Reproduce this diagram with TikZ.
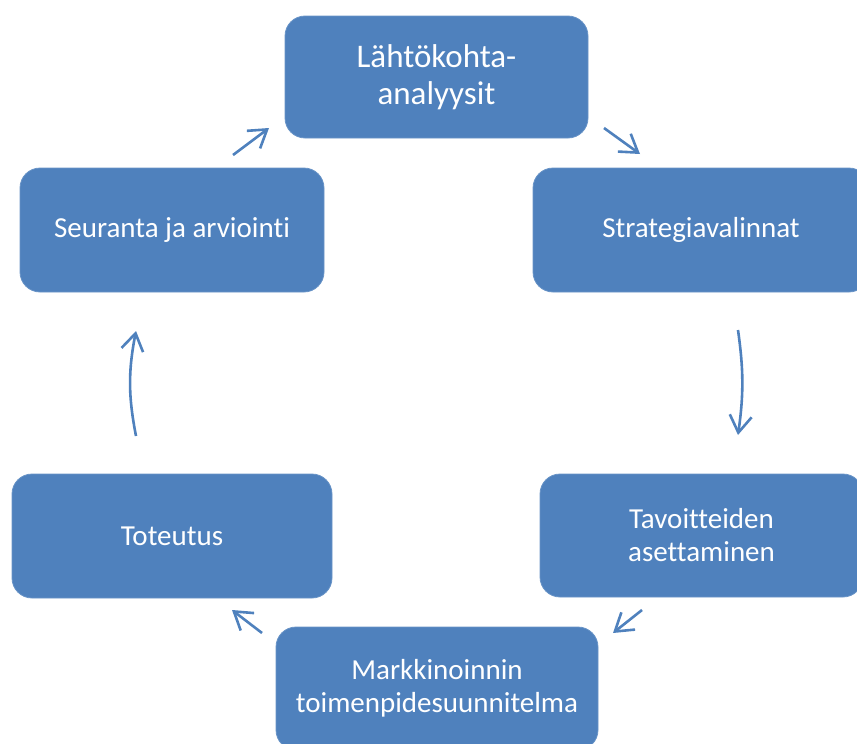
\documentclass[tikz,border=0pt]{standalone}
\usepackage{fontspec}
\setmainfont{Carlito}[Ligatures=NoCommon]
\usetikzlibrary{arrows.meta}
\definecolor{boxblue}{HTML}{4F81BD}

\begin{document}
\begin{tikzpicture}[x=1pt,y=-1pt,
	phase/.style={rectangle, rounded corners=20pt, fill=boxblue, draw=boxblue!85!white, line width=0.8pt,
		text=white, align=center, inner sep=0pt, font=\fontsize{29}{33}\selectfont},
	cyc/.style={draw=boxblue, line width=2.6pt, -{Straight Barb[length=17pt,width=22pt]}}]
	\useasboundingbox (0,0) rectangle (857,744);
	\node[phase, minimum width=303pt, minimum height=122pt, font=\fontsize{33}{37}\selectfont] (lahto) at (436.5,77) {Lähtökohta-\\analyysit};
	\node[phase, minimum width=336pt, minimum height=124pt] (strat) at (701,230) {Strategiavalinnat};
	\node[phase, minimum width=323pt, minimum height=123pt] (tavoit) at (701.5,535.5) {Tavoitteiden\\asettaminen};
	\node[phase, minimum width=322pt, minimum height=123pt] (markk) at (437,688.5) {Markkinoinnin\\toimenpidesuunnitelma};
	\node[phase, minimum width=320pt, minimum height=124pt] (toteu) at (172,536) {Toteutus};
	\node[phase, minimum width=304pt, minimum height=124pt] (seur) at (172,230) {Seuranta ja arviointi};
	% arrow ends
	\coordinate (a1) at (604,128); \coordinate (b1) at (640,154);
	\coordinate (a2) at (738,330); \coordinate (b2) at (738,435);
	\coordinate (a3) at (642,610); \coordinate (b3) at (613,633);
	\coordinate (a4) at (262,633); \coordinate (b4) at (232,610);
	\coordinate (a5) at (136,436); \coordinate (b5) at (136,331);
	\coordinate (a6) at (233,155); \coordinate (b6) at (269,128);
	\foreach \i/\bend in {1/0,2/8,3/0,4/0,5/11,6/0} {
		\draw[cyc] (a\i) to[bend left=\bend] (b\i);
	}
\end{tikzpicture}
\end{document}
